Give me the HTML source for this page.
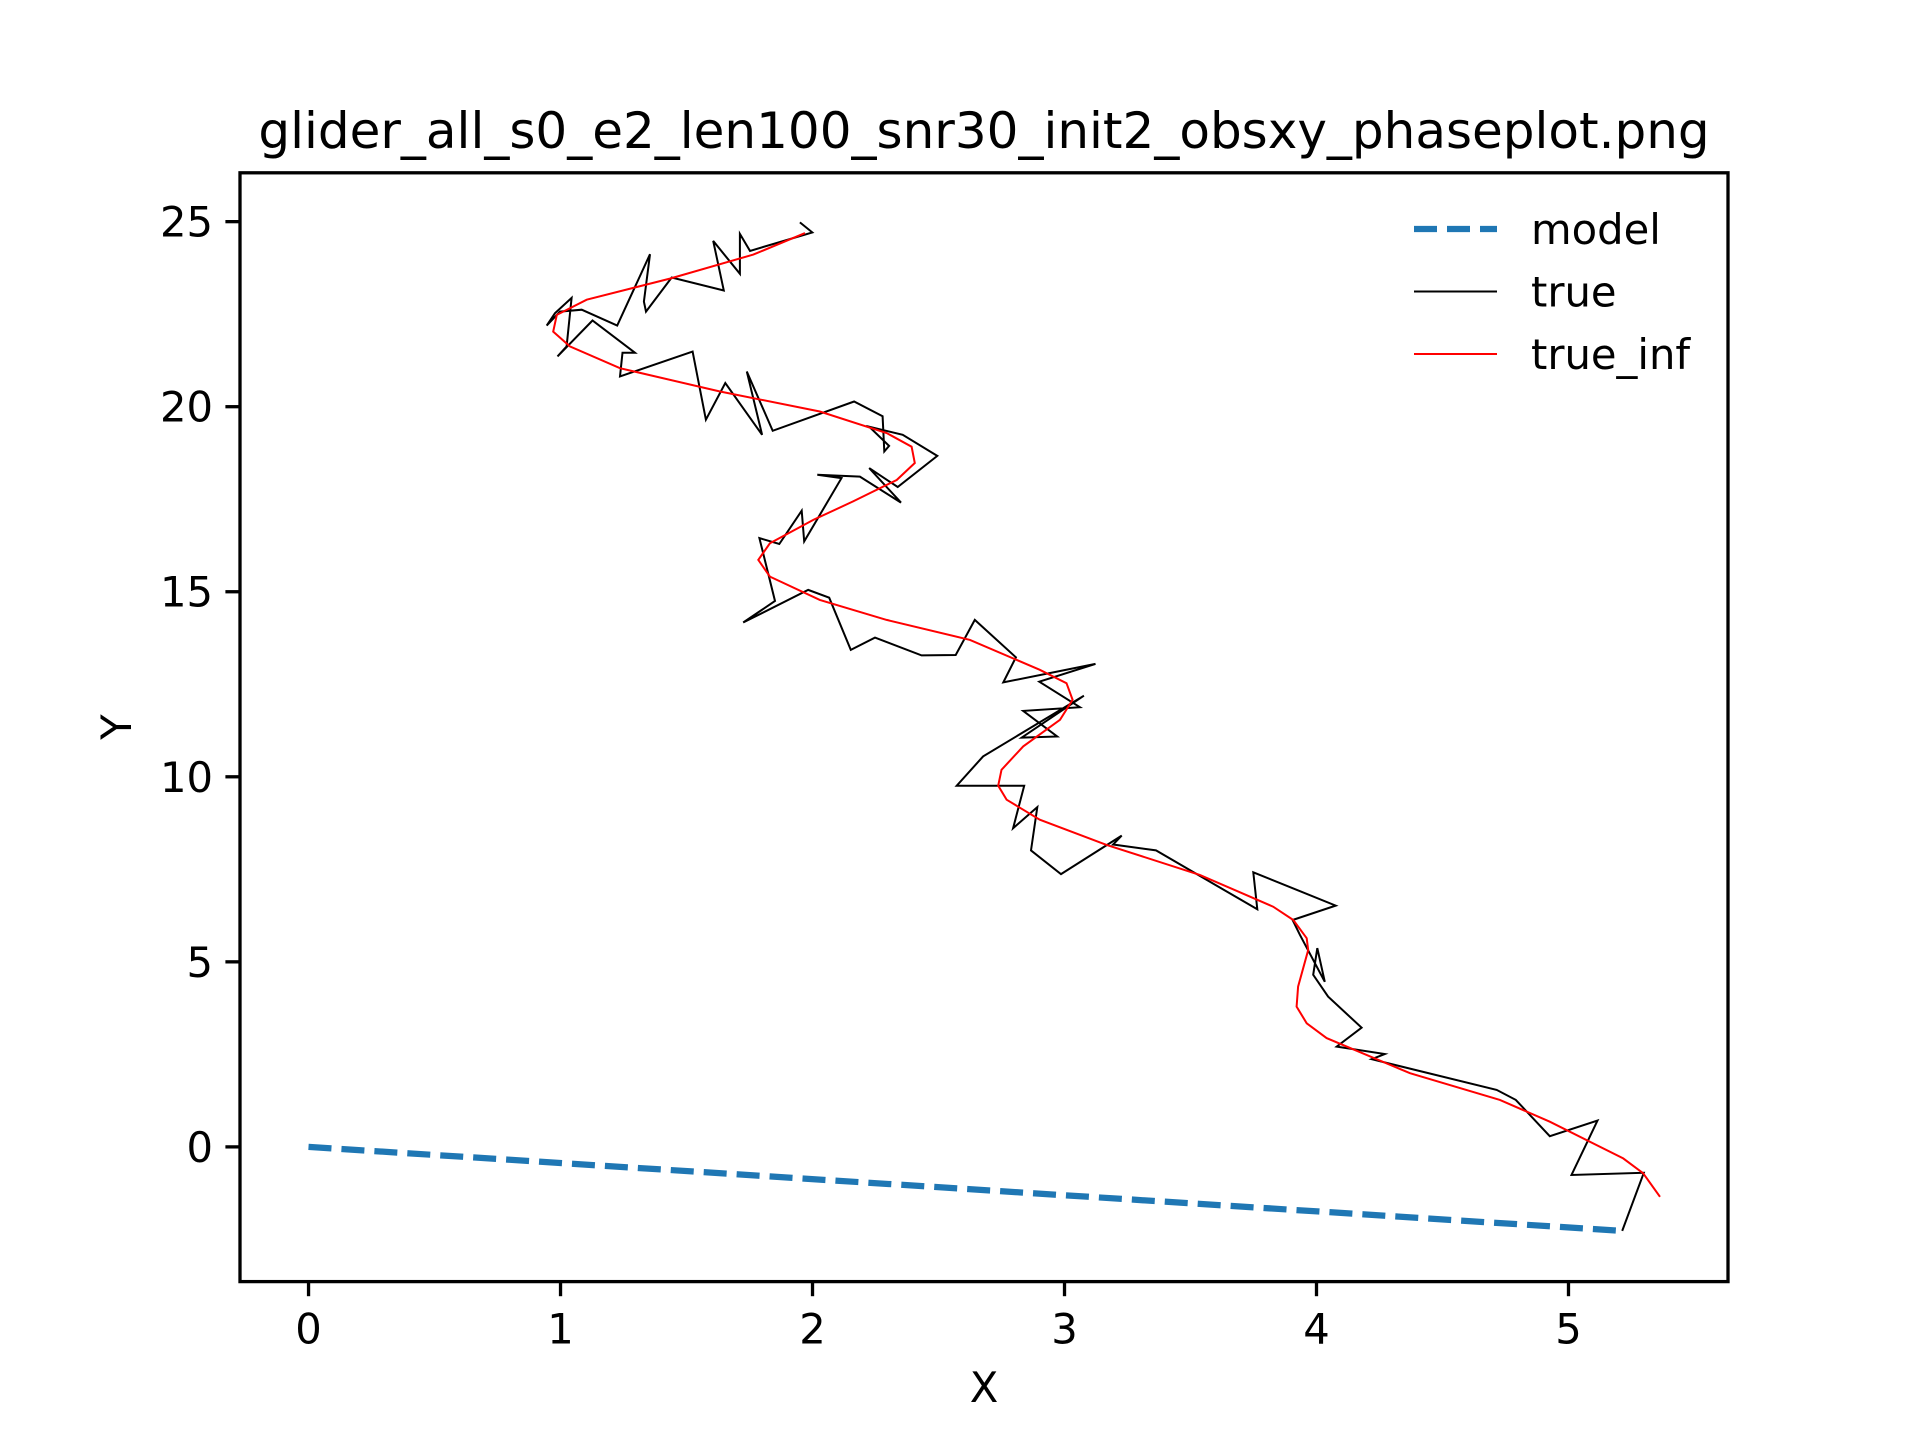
<!DOCTYPE html>
<html><head><meta charset="utf-8"><style>html,body{margin:0;padding:0;background:#fff}svg{display:block}</style></head>
<body>
<svg id="chart" width="1920" height="1440" xmlns="http://www.w3.org/2000/svg" font-family="'DejaVu Sans','Liberation Sans',sans-serif"></svg>
<script>
const xTicks=[0,1,2,3,4,5];
const yTicks=[0,5,10,15,20,25];
const modelX=[0,5.213];
const modelY=[0,-2.27];
const trueX=[1.950,1.999,1.752,1.712,1.712,1.606,1.648,1.441,1.339,1.331,1.355,1.225,1.084,0.998,0.945,0.978,1.044,1.024,0.988,1.127,1.295,1.246,1.236,1.524,1.577,1.654,1.800,1.739,1.842,2.165,2.278,2.285,2.304,2.225,2.358,2.495,2.338,2.225,2.351,2.188,2.019,2.115,1.967,1.957,1.868,1.789,1.851,1.725,1.983,2.066,2.152,2.248,2.433,2.568,2.644,2.807,2.757,3.123,2.900,3.061,2.836,2.971,2.830,3.077,2.677,2.572,2.840,2.796,2.892,2.867,2.986,3.227,3.193,3.363,3.765,3.749,4.076,3.905,3.934,4.033,4.003,3.987,4.046,4.179,4.080,4.271,4.219,4.715,4.791,4.926,5.115,5.012,5.299,5.213];
const trueY=[24.98,24.71,24.21,24.67,23.59,24.48,23.14,23.49,22.57,22.84,24.12,22.19,22.62,22.57,22.19,22.53,22.94,21.63,21.36,22.33,21.46,21.46,20.82,21.49,19.65,20.64,19.24,20.95,19.35,20.14,19.74,18.79,18.94,19.46,19.24,18.67,17.83,18.34,17.41,18.11,18.16,18.07,16.36,17.19,16.29,16.45,14.75,14.17,15.05,14.84,13.43,13.76,13.28,13.29,14.24,13.23,12.55,13.05,12.57,11.88,11.78,11.09,11.06,12.19,10.55,9.76,9.76,8.61,9.18,8.01,7.37,8.41,8.17,8.01,6.42,7.42,6.52,6.13,5.73,4.46,5.37,4.65,4.06,3.22,2.71,2.51,2.37,1.54,1.27,0.29,0.71,-0.76,-0.70,-2.27];
const infX=[1.970,1.765,1.434,1.104,0.985,0.971,1.037,1.236,1.633,2.029,2.294,2.393,2.406,2.334,2.161,2.003,1.831,1.785,1.831,2.029,2.294,2.625,2.902,3.008,3.032,2.982,2.836,2.750,2.737,2.770,2.902,3.167,3.537,3.828,3.908,3.961,3.967,3.927,3.921,3.961,4.040,4.371,4.728,4.926,5.217,5.296,5.363];
const infY=[24.69,24.11,23.46,22.89,22.48,22.03,21.63,21.04,20.41,19.87,19.29,18.92,18.48,18.02,17.44,16.94,16.31,15.86,15.41,14.78,14.24,13.70,12.89,12.53,12.08,11.54,10.82,10.19,9.76,9.38,8.84,8.16,7.35,6.49,6.13,5.64,5.32,4.33,3.79,3.34,2.94,1.99,1.27,0.68,-0.31,-0.71,-1.35];

const NS='http://www.w3.org/2000/svg';
const svg=document.getElementById('chart');
const L=240,R=1728,T=172.8,B=1281.6;
const xmin=-0.272,xmax=5.633,ymin=-3.64,ymax=26.32;
function sx(v){return L+(v-xmin)/(xmax-xmin)*(R-L);}
function sy(v){return B-(v-ymin)/(ymax-ymin)*(B-T);}
function mk(tag,attrs){const e=document.createElementNS(NS,tag);for(const k in attrs)e.setAttribute(k,attrs[k]);svg.appendChild(e);return e;}
function pts(xs,ys){return xs.map((x,i)=>sx(x).toFixed(1)+','+sy(ys[i]).toFixed(1)).join(' ');}

let t=mk('text',{x:984,y:148,'font-size':'50','text-anchor':'middle'});
t.textContent='glider_all_s0_e2_len100_snr30_init2_obsxy_phaseplot.png';



let ml=mk('polyline',{points:pts(modelX,modelY),fill:'none',stroke:'#1f77b4','stroke-width':'6.25','stroke-dasharray':'23 10'});


let tl=mk('polyline',{points:pts(trueX,trueY),fill:'none',stroke:'#000','stroke-width':'2','stroke-linejoin':'miter'});


let il=mk('polyline',{points:pts(infX,infY),fill:'none',stroke:'#f00','stroke-width':'2'});



let fr=mk('rect',{x:L,y:T,width:R-L,height:B-T,fill:'none',stroke:'#000','stroke-width':'3.3'});



xTicks.forEach(v=>{
  const x=sx(v);
  let l=mk('line',{x1:x,x2:x,y1:B,y2:B+14.6,stroke:'#000','stroke-width':'3.3'});
  
  
  let tx=mk('text',{x:x,y:B+62,'font-size':'41.7','text-anchor':'middle'});
  tx.textContent=v;
  
  
});
yTicks.forEach(v=>{
  const y=sy(v);
  let l=mk('line',{x1:L-14.6,x2:L,y1:y,y2:y,stroke:'#000','stroke-width':'3.3'});
  
  
  let tx=mk('text',{x:L-27,y:y+15,'font-size':'41.7','text-anchor':'end'});
  tx.textContent=v;
  
  
});
let xl=mk('text',{x:984,y:1402,'font-size':'41.7','text-anchor':'middle'});
xl.textContent='X';


let yl=mk('text',{x:0,y:0,'font-size':'41.7','text-anchor':'middle',transform:'translate(131,727) rotate(-90)'});
yl.textContent='Y';



const legNames=['model','true','true_inf'];
const legY=[229,291.5,354];
legNames.forEach((n,i)=>{
  let attrs={x1:1414,x2:1497,y1:legY[i],y2:legY[i],fill:'none'};
  if(i===0){attrs.stroke='#1f77b4';attrs['stroke-width']='6.25';attrs['stroke-dasharray']='23 10';}
  else{attrs.stroke=i===1?'#000':'#f00';attrs['stroke-width']='2';}
  let l=mk('line',attrs);
  
  
  let tx=mk('text',{x:1531,y:legY[i]+15,'font-size':'41.7'});
  tx.textContent=n;
  
  
});
</script>
</body></html>
